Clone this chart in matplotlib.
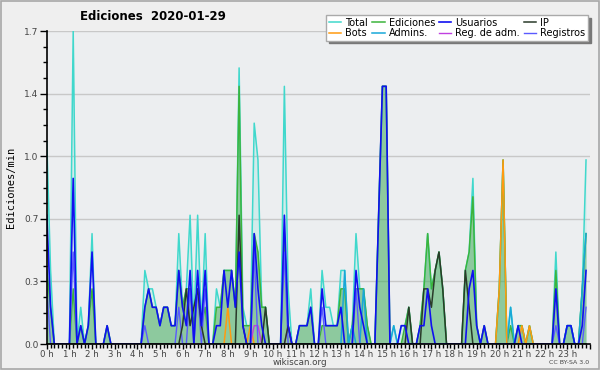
import numpy as np
import matplotlib
matplotlib.use("Agg")
import matplotlib.pyplot as plt
from matplotlib.patches import Rectangle
from matplotlib.ticker import MultipleLocator, FixedLocator, FuncFormatter

# counts per 10-minute bin (144 bins), chart shows edits/min = count / 10
total = [11, 4, 0, 0, 0, 0, 0, 17, 0, 2, 0, 1,   # 0h-1h
         6, 0, 0, 0, 1, 0, 0, 0, 0, 0, 0, 0,      # 2h-3h
         0, 0, 4, 3, 3, 2, 1, 2, 2, 1, 1, 6,      # 4h-5h
         2, 3, 7, 1, 7, 1, 6, 0, 0, 3, 2, 4,      # 6h-7h
         4, 4, 2, 15, 2, 1, 1, 12, 10, 2, 2, 0,   # 8h-9h
         0, 0, 0, 14, 3, 0, 0, 1, 1, 1, 3, 0,     # 10h-11h
         0, 4, 2, 2, 1, 1, 4, 4, 0, 1, 6, 3,      # 12h-13h
         3, 1, 0, 0, 7, 14, 14, 0, 1, 0, 1, 1,    # 14h-15h
         2, 0, 0, 1, 3, 6, 3, 4, 5, 3, 0, 0,      # 16h-17h
         0, 0, 0, 4, 5, 9, 1, 0, 1, 0, 0, 0,      # 18h-19h
         3, 10, 0, 2, 0, 1, 1, 0, 1, 0, 0, 0,     # 20h-21h
         0, 0, 0, 5, 0, 0, 1, 1, 0, 0, 3, 10]     # 22h-23h

ediciones = [4, 2, 0, 0, 0, 0, 0, 3, 0, 1, 0, 1,
             3, 0, 0, 0, 1, 0, 0, 0, 0, 0, 0, 0,
             0, 0, 2, 3, 2, 2, 1, 2, 2, 1, 1, 4,
             2, 3, 3, 1, 3, 1, 2, 0, 0, 2, 2, 4,
             4, 4, 2, 14, 1, 1, 1, 6, 5, 2, 2, 0,
             0, 0, 0, 6, 1, 0, 0, 1, 1, 1, 2, 0,
             0, 1, 1, 1, 1, 1, 3, 3, 0, 1, 3, 3,
             3, 1, 0, 0, 7, 14, 14, 0, 0, 0, 0, 1,
             2, 0, 0, 1, 3, 6, 3, 4, 5, 3, 0, 0,
             0, 0, 0, 4, 5, 8, 1, 0, 1, 0, 0, 0,
             3, 10, 0, 1, 0, 1, 1, 0, 1, 0, 0, 0,
             0, 0, 0, 4, 0, 0, 1, 1, 0, 0, 3, 6]

usuarios = [7, 2, 0, 0, 0, 0, 0, 9, 0, 1, 0, 1,
            5, 0, 0, 0, 1, 0, 0, 0, 0, 0, 0, 0,
            0, 0, 2, 3, 2, 2, 1, 2, 2, 1, 1, 4,
            2, 1, 4, 0, 4, 1, 4, 0, 0, 1, 1, 4,
            2, 4, 2, 5, 1, 0, 0, 6, 3, 1, 0, 0,
            0, 0, 0, 7, 1, 0, 0, 1, 1, 1, 2, 0,
            0, 3, 1, 1, 1, 1, 2, 0, 0, 0, 4, 2,
            1, 0, 0, 0, 7, 14, 14, 0, 0, 0, 1, 1,
            0, 0, 0, 1, 1, 3, 1, 0, 0, 0, 0, 0,
            0, 0, 0, 0, 3, 4, 1, 0, 1, 0, 0, 0,
            0, 0, 0, 0, 0, 1, 0, 0, 0, 0, 0, 0,
            0, 0, 0, 3, 0, 0, 1, 1, 0, 0, 1, 4]

ip = [0, 0, 0, 0, 0, 0, 0, 0, 0, 0, 0, 0,
      0, 0, 0, 0, 0, 0, 0, 0, 0, 0, 0, 0,
      0, 0, 0, 0, 0, 0, 0, 0, 0, 0, 0, 0,
      1, 3, 1, 2, 3, 1, 0, 0, 0, 0, 0, 0,
      0, 0, 0, 7, 1, 0, 0, 0, 0, 0, 2, 0,
      0, 0, 0, 0, 1, 0, 0, 0, 0, 0, 0, 0,
      0, 0, 0, 0, 0, 0, 0, 0, 0, 0, 0, 0,
      0, 0, 0, 0, 0, 0, 0, 0, 0, 0, 0, 0,
      2, 0, 0, 0, 3, 3, 2, 4, 5, 3, 0, 0,
      0, 0, 0, 4, 2, 0, 0, 0, 0, 0, 0, 0,
      0, 0, 0, 0, 0, 0, 0, 0, 0, 0, 0, 0,
      0, 0, 0, 0, 0, 0, 0, 0, 0, 0, 0, 0]

# sparse series: {bin: count}
bots = {48: 2, 54: 1, 120: 3, 121: 10, 126: 1, 128: 1}
admins = {79: 4, 81: 1, 84: 3, 92: 1, 123: 2, 138: 1, 139: 1, 142: 3, 143: 6}
reg_adm = {55: 1, 56: 1, 64: 1}
registros = {0: 3, 7: 5, 26: 1, 35: 2, 38: 3, 40: 3, 42: 3, 55: 5, 63: 5,
             73: 2, 82: 3, 135: 1, 143: 2}

ymax = 1.7


def sparse(d, n=144):
    out = np.zeros(n)
    for k, v in d.items():
        out[k] = v
    return out


x = np.arange(144) / 6.0
rate = lambda s: np.asarray(s, dtype=float) / 10.0

fig = plt.figure(figsize=(6.0, 3.7), dpi=100, facecolor="#efefef")
fig.patches.append(Rectangle((0.001, 0.002), 0.997, 0.995, transform=fig.transFigure,
                             fill=False, edgecolor="#a8a8a8", linewidth=1.2))
ax = fig.add_axes([0.078, 0.07, 0.905, 0.846])
ax.set_facecolor("#eceef0")

ax.fill_between(x, rate(total), color="#40e0d0", alpha=0.15, linewidth=0)
ax.fill_between(x, rate(ediciones), color="#3aa040", alpha=0.45, linewidth=0)

h = {}
h["Total"], = ax.plot(x, rate(total), color="#40d8cc", lw=1.1)
h["Ediciones"], = ax.plot(x, rate(ediciones), color="#3cb43c", lw=1.1)
h["Admins."], = ax.plot(x, rate(sparse(admins)), color="#18a8d8", lw=1.1)
h["Bots"], = ax.plot(x, rate(sparse(bots)), color="#ff9a10", lw=1.1)
h["Reg. de adm."], = ax.plot(x, rate(sparse(reg_adm)), color="#c040e0", lw=1.0)
h["Registros"], = ax.plot(x, rate(sparse(registros)), color="#5a5aff", lw=1.0)
h["IP"], = ax.plot(x, rate(ip), color="#2a3a2a", lw=1.1)
h["Usuarios"], = ax.plot(x, rate(usuarios), color="#1010f0", lw=1.2)

ax.set_xlim(0, 24)
ax.set_ylim(0, ymax)

yt = np.linspace(0, ymax, 6)
ax.yaxis.set_major_locator(FixedLocator(yt))
ax.yaxis.set_minor_locator(FixedLocator(np.linspace(0, ymax, 21)))
ax.yaxis.set_major_formatter(FuncFormatter(lambda v, p: "%.1f" % v))
ax.xaxis.set_major_locator(MultipleLocator(1))
ax.xaxis.set_minor_locator(MultipleLocator(1 / 6.0))
ax.xaxis.set_major_formatter(FuncFormatter(lambda v, p: "%d h" % v if v < 24 else ""))
ax.tick_params(axis="y", which="major", length=5, width=1, color="black",
               labelsize=6.5, labelcolor="#444444", pad=1)
ax.tick_params(axis="x", which="major", length=3.5, width=1, color="black",
               labelsize=6.2, labelcolor="#444444", pad=0.5)
ax.tick_params(axis="both", which="minor", length=3, width=1, color="black")
ax.grid(axis="y", which="major", color="#c8c8c8", lw=1)
ax.set_axisbelow(True)
for s in ["top", "right"]:
    ax.spines[s].set_visible(False)
for s in ["left", "bottom"]:
    ax.spines[s].set_linewidth(1.2)

ax.set_ylabel("Ediciones/min", family="DejaVu Sans Mono", fontsize=7.5, labelpad=6)
fig.text(0.255, 0.955, "Ediciones  2020-01-29", ha="center", va="center",
         fontsize=8.5, fontweight="bold")
fig.text(0.5, 0.021, "wikiscan.org", ha="center", va="center", fontsize=6.3, color="#444444")
fig.text(0.982, 0.02, "CC BY-SA 3.0", ha="right", va="center", fontsize=4.5, color="#444444")

order = ["Total", "Bots", "Ediciones", "Admins.", "Usuarios", "Reg. de adm.", "IP", "Registros"]
leg = fig.legend([h[k] for k in order], order, ncol=4, loc="upper right",
                 bbox_to_anchor=(0.988, 0.972), fontsize=7, frameon=True, fancybox=False,
                 shadow={"color": "#777777", "alpha": 1.0}, handlelength=1.3, handletextpad=0.4,
                 columnspacing=0.4, labelspacing=0.05, borderpad=0.25)
leg.get_frame().set_edgecolor("#aaaaaa")
leg.get_frame().set_linewidth(1.0)

fig.savefig("out.png", dpi=100, facecolor=fig.get_facecolor())
